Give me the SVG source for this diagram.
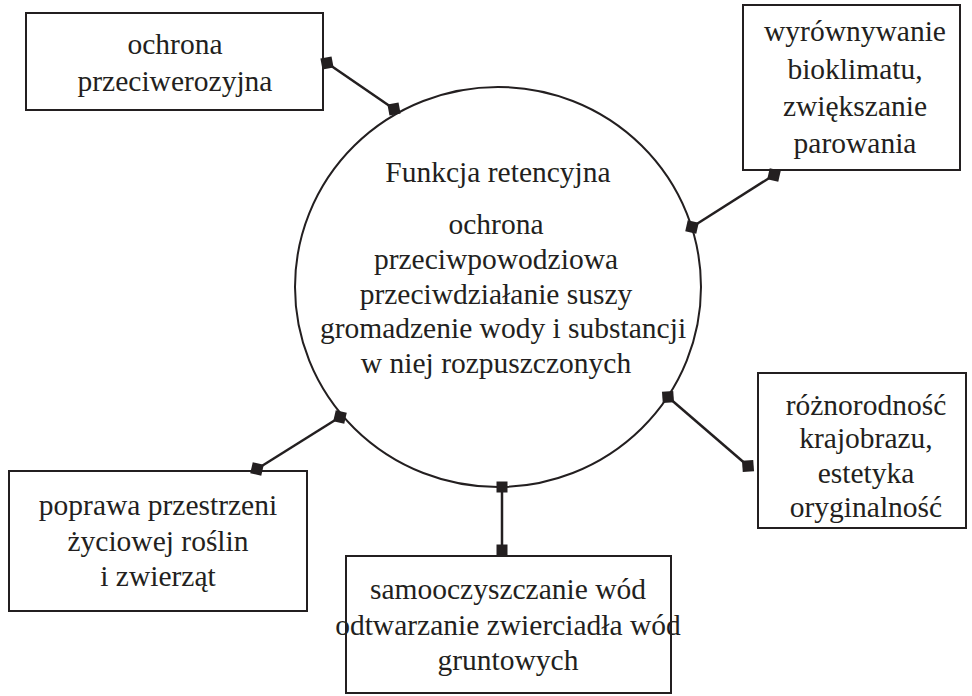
<svg xmlns="http://www.w3.org/2000/svg" width="972" height="696" viewBox="0 0 972 696">
<style>
.box{fill:#fff;stroke:#231f20;stroke-width:2}
.t{font-family:"Liberation Serif","Times New Roman",serif;font-size:29.5px;fill:#231f20;text-anchor:middle}
.c{stroke:#231f20;stroke-width:2.5;fill:none}
</style>
<defs>
<marker id="dia" markerUnits="userSpaceOnUse" viewBox="-9 -9 18 18" markerWidth="18" markerHeight="18" orient="auto">
<path d="M-8,0 L0,-8 L8,0 L0,8 z" fill="#231f20"/>
</marker>
<marker id="sq" markerUnits="userSpaceOnUse" viewBox="-7 -7 14 14" markerWidth="14" markerHeight="14" orient="auto">
<rect x="-5.5" y="-5.5" width="11" height="11" fill="#231f20"/>
</marker>
</defs>
<rect width="972" height="696" fill="#fff"/>
<g id="center">
<ellipse cx="498" cy="287" rx="203" ry="200" fill="none" stroke="#231f20" stroke-width="2"/>
<text class="t" x="498" y="182">Funkcja retencyjna</text>
<text class="t" x="496" y="234">ochrona</text>
<text class="t" x="496" y="269">przeciwpowodziowa</text>
<text class="t" x="496" y="304">przeciwdziałanie suszy</text>
<text class="t" x="503" y="338">gromadzenie wody i substancji</text>
<text class="t" x="496" y="373">w niej rozpuszczonych</text>
</g>
<g id="box-erozja">
<rect class="box" x="26" y="13" width="297" height="97"/>
<text class="t" x="175" y="54">ochrona</text>
<text class="t" x="175" y="91">przeciwerozyjna</text>
</g>
<g id="box-bioklimat">
<rect class="box" x="743" y="5" width="217" height="165"/>
<text class="t" x="855" y="41">wyrównywanie</text>
<text class="t" x="855" y="79">bioklimatu,</text>
<text class="t" x="855" y="116">zwiększanie</text>
<text class="t" x="855" y="153">parowania</text>
</g>
<g id="box-krajobraz">
<rect class="box" x="758" y="373" width="208" height="155"/>
<text class="t" x="866" y="415">różnorodność</text>
<text class="t" x="866" y="448">krajobrazu,</text>
<text class="t" x="866" y="483">estetyka</text>
<text class="t" x="866" y="517">oryginalność</text>
</g>
<g id="box-przestrzen">
<rect class="box" x="9" y="471" width="298" height="140"/>
<text class="t" x="158" y="515">poprawa przestrzeni</text>
<text class="t" x="158" y="551">życiowej roślin</text>
<text class="t" x="158" y="586">i zwierząt</text>
</g>
<g id="box-samooczyszczanie">
<rect class="box" x="346" y="556" width="325" height="137"/>
<text class="t" x="508" y="599">samooczyszczanie wód</text>
<text class="t" x="508" y="635">odtwarzanie zwierciadła wód</text>
<text class="t" x="508" y="670">gruntowych</text>
</g>
<g id="connectors">
<line class="c" x1="327" y1="63" x2="394" y2="109" marker-start="url(#dia)" marker-end="url(#dia)"/>
<line class="c" x1="692" y1="227" x2="774" y2="175" marker-start="url(#dia)" marker-end="url(#dia)"/>
<line class="c" x1="340" y1="417" x2="257" y2="469" marker-start="url(#dia)" marker-end="url(#dia)"/>
<line class="c" x1="668" y1="397" x2="748" y2="466" marker-start="url(#dia)" marker-end="url(#dia)"/>
<line class="c" x1="502" y1="487" x2="502" y2="550" marker-start="url(#sq)" marker-end="url(#sq)"/>
</g>
</svg>
